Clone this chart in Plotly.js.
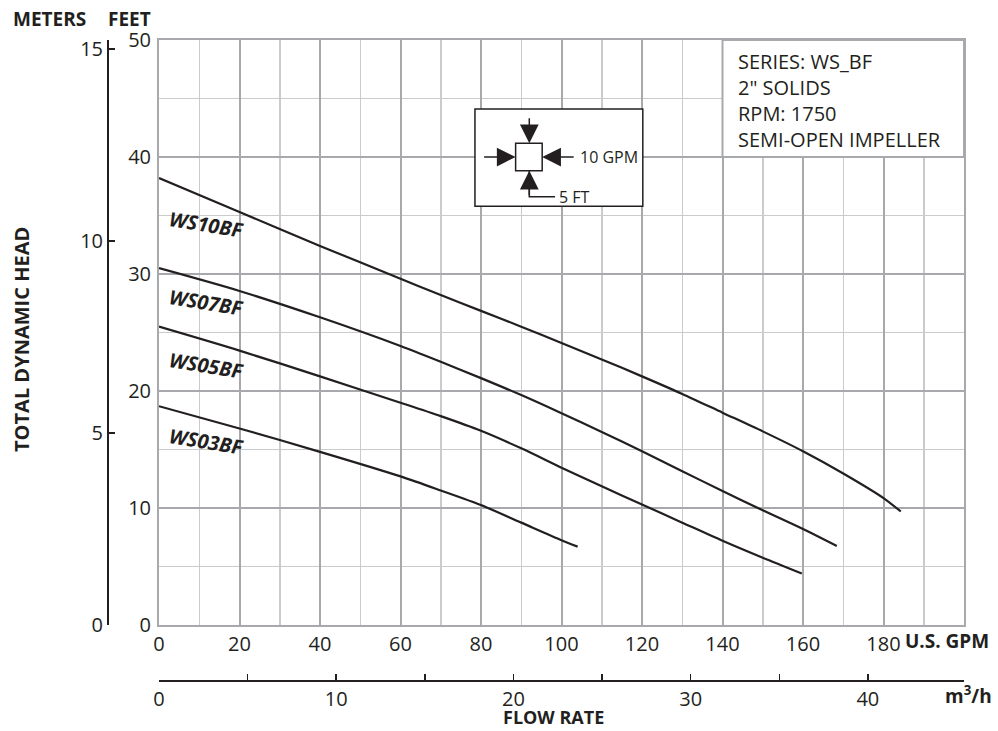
<!DOCTYPE html>
<html>
<head>
<meta charset="utf-8">
<script src="https://cdn.plot.ly/plotly-3.0.1.min.js"></script>
<style>html,body{margin:0;padding:0;background:#fff;}#chart{width:998px;height:731px;}</style>
</head>
<body>
<div id="chart"></div>
<script>
// ---- data (flow in U.S. GPM, head in feet) ----
const ws10_gpm = [0, 20, 40, 60, 70, 80, 90, 100, 110, 120, 130, 140, 150, 160, 170, 180, 184.3];
const ws10_ft  = [38.2, 35.3, 32.4, 29.6, 28.2, 26.85, 25.5, 24.1, 22.7, 21.25, 19.75, 18.15, 16.55, 14.85, 12.95, 10.85, 9.7];
const ws07_gpm = [0, 20, 40, 60, 70, 80, 90, 100, 110, 120, 130, 140, 150, 160, 168.4];
const ws07_ft  = [30.5, 28.55, 26.3, 23.85, 22.5, 21.1, 19.65, 18.1, 16.5, 14.85, 13.15, 11.45, 9.8, 8.2, 6.75];
const ws05_gpm = [0, 20, 40, 60, 70, 80, 90, 100, 110, 120, 130, 140, 150, 159.7];
const ws05_ft  = [25.5, 23.45, 21.25, 19.0, 17.85, 16.6, 15.1, 13.45, 11.85, 10.3, 8.75, 7.2, 5.75, 4.4];
const ws03_gpm = [0, 20, 40, 60, 70, 80, 90, 100, 104];
const ws03_ft  = [18.7, 16.8, 14.8, 12.7, 11.5, 10.25, 8.75, 7.25, 6.7];

const seriesNames = ['WS10BF', 'WS07BF', 'WS05BF', 'WS03BF'];
const gpmTicks = [0, 20, 40, 60, 80, 100, 120, 140, 160, 180];
const ftTicks = [0, 10, 20, 30, 40, 50];
const meterTicks = [0, 5, 10, 15];
const m3hTicks = [0, 5, 10, 15, 20, 25, 30, 35, 40];
const m3hTickText = ['0', '', '10', '', '20', '', '30', '', '40'];
const infoLines = ['SERIES: WS_BF', '2" SOLIDS', 'RPM: 1750', 'SEMI-OPEN IMPELLER'];

const GPM_MAX = 200, FT_MAX = 50;
const FT_PER_M = 3.28084, GPM_PER_M3H = 4.40287;

// ---- layout geometry ----
const W = 998, H = 731;
const ML = 107, MR = 34, MT = 40, MB = 51;
const PW = W - ML - MR, PH = H - MT - MB;
const plotLeft = 159, plotBottom = 625;
const xdom0 = (plotLeft - ML) / PW;
const ydom0 = ((H - MB) - plotBottom) / PH;
const px = v => (v - ML) / PW;            // pixel x -> paper
const py = v => ((H - MB) - v) / PH;      // pixel y -> paper

const INK = '#231f20';
const FONT = 'Open Sans, Noto Sans, sans-serif';
const MAJ = '#a7a9ac', MIN = '#cacbcd';

const xs = [ws10_gpm, ws07_gpm, ws05_gpm, ws03_gpm];
const ys = [ws10_ft, ws07_ft, ws05_ft, ws03_ft];
const traces = xs.map((x, i) => ({
  type: 'scatter', mode: 'lines', x: x, y: ys[i], name: seriesNames[i],
  line: {color: INK, width: 2.2, shape: 'spline', smoothing: 0.8},
  hoverinfo: 'skip', showlegend: false
}));
traces.push({type: 'scatter', mode: 'lines', x: [], y: [], xaxis: 'x2', yaxis: 'y', showlegend: false, hoverinfo: 'skip'});
traces.push({type: 'scatter', mode: 'lines', x: [], y: [], xaxis: 'x', yaxis: 'y2', showlegend: false, hoverinfo: 'skip'});

const labelY = [34.2, 27.6, 22.2, 15.7];
const annotations = seriesNames.map((n, i) => ({
  xref: 'x', yref: 'y', x: 11.8, y: labelY[i], text: n, showarrow: false,
  textangle: 9, font: {family: FONT, size: 20, color: INK, weight: 700, style: 'italic'}
}));

const tfont = (s, b) => ({family: FONT, size: s, color: INK, weight: b ? 700 : 400});
annotations.push(
  {xref: 'paper', yref: 'paper', x: px(11), y: py(19), xanchor: 'left', yanchor: 'middle', text: 'METERS', showarrow: false, font: tfont(19, true)},
  {xref: 'paper', yref: 'paper', x: px(106), y: py(19), xanchor: 'left', yanchor: 'middle', text: 'FEET', showarrow: false, font: tfont(19, true)},
  {xref: 'paper', yref: 'paper', x: px(21), y: py(340), xanchor: 'center', yanchor: 'middle', text: 'TOTAL DYNAMIC HEAD', textangle: -90, showarrow: false, font: tfont(20, true)},
  {xref: 'paper', yref: 'paper', x: px(903), y: py(641), xanchor: 'left', yanchor: 'middle', text: 'U.S. GPM', showarrow: false, font: tfont(19, true)},
  {xref: 'paper', yref: 'paper', x: px(994), y: py(695), xanchor: 'right', yanchor: 'middle', text: 'm<sup>3</sup>/h', showarrow: false, font: tfont(19, true)},
  {xref: 'paper', yref: 'paper', x: px(553), y: py(717), xanchor: 'center', yanchor: 'middle', text: 'FLOW RATE', showarrow: false, font: tfont(18, true)},
  {xref: 'x', yref: 'y', x: 143.3, y: 44.87, xanchor: 'left', yanchor: 'middle', align: 'left', text: infoLines.join('<br>'), showarrow: false, font: tfont(20, false)},
  // inset scale key
  {xref: 'x', yref: 'y', x: 104.0, y: 40.0, xanchor: 'left', yanchor: 'middle', text: '10 GPM', showarrow: false, font: tfont(16, false)},
  {xref: 'x', yref: 'y', x: 99.0, y: 36.6, xanchor: 'left', yanchor: 'middle', text: '5 FT', showarrow: false, font: tfont(16, false)}
);
const arrow = (x, y, ax, ay) => ({xref: 'x', yref: 'y', axref: 'x', ayref: 'y', x: x, y: y, ax: ax, ay: ay, text: '', showarrow: true, arrowhead: 2, arrowsize: 2.5, arrowwidth: 1.5, arrowcolor: INK, standoff: 0});
annotations.push(
  arrow(88.6, 40.0, 80.4, 40.0),
  arrow(95.2, 40.0, 103.4, 40.0),
  arrow(92.0, 41.17, 92.0, 43.44),
  arrow(92.0, 38.83, 92.0, 36.6)
);

const shapes = [
  {type: 'rect', xref: 'x', yref: 'y', x0: 140, x1: 200, y0: 40, y1: 50, fillcolor: '#fff', line: {color: MAJ, width: 2}, layer: 'above'},
  {type: 'rect', xref: 'x', yref: 'y', x0: 78.5, x1: 120.2, y0: 35.8, y1: 44.1, fillcolor: '#fff', line: {color: INK, width: 1.5}, layer: 'above'},
  {type: 'rect', xref: 'x', yref: 'y', x0: 88.6, x1: 95.2, y0: 38.83, y1: 41.17, fillcolor: '#fff', line: {color: INK, width: 1.5}, layer: 'above'},
  {type: 'path', xref: 'x', yref: 'y', path: 'M 92.0 38.83 L 92.0 36.6 L 98.4 36.6', line: {color: INK, width: 1.5}, layer: 'above'}
];

const layout = {
  width: W, height: H,
  margin: {l: ML, r: MR, t: MT, b: MB, pad: 0},
  paper_bgcolor: '#fff', plot_bgcolor: '#fff',
  showlegend: false, hovermode: false,
  font: {family: FONT, color: INK},
  xaxis: {
    domain: [xdom0, 1], range: [0, GPM_MAX], tickmode: 'array', tickvals: gpmTicks,
    showgrid: true, gridcolor: MAJ, gridwidth: 2, zeroline: false,
    showline: true, mirror: true, linecolor: MAJ, linewidth: 2,
    ticks: '', tickfont: {family: FONT, size: 20, color: INK},
    minor: {dtick: 10, tick0: 0, showgrid: true, gridcolor: MIN, gridwidth: 1.5, ticks: ''},
    fixedrange: true
  },
  yaxis: {
    domain: [ydom0, 1], range: [0, FT_MAX], tickmode: 'array', tickvals: ftTicks,
    showgrid: true, gridcolor: MAJ, gridwidth: 2, zeroline: false,
    showline: true, mirror: true, linecolor: MAJ, linewidth: 2,
    ticks: '', ticklabelstandoff: 2, tickfont: {family: FONT, size: 20, color: INK},
    minor: {dtick: 5, tick0: 0, showgrid: true, gridcolor: MIN, gridwidth: 1.5, ticks: ''},
    fixedrange: true
  },
  xaxis2: {
    overlaying: 'x', anchor: 'free', position: 0, side: 'bottom',
    range: [0, GPM_MAX / GPM_PER_M3H], tickmode: 'array', tickvals: m3hTicks, ticktext: m3hTickText,
    ticks: 'inside', ticklen: 6, tickwidth: 1.5, tickcolor: INK,
    showline: true, linecolor: INK, linewidth: 1.5, showgrid: false, zeroline: false,
    tickfont: {family: FONT, size: 20, color: INK}, fixedrange: true
  },
  yaxis2: {
    overlaying: 'y', anchor: 'free', position: 0, side: 'left',
    range: [0, FT_MAX / FT_PER_M], tickmode: 'array', tickvals: meterTicks,
    ticks: 'inside', ticklen: 6, tickwidth: 1.5, tickcolor: INK,
    showline: true, linecolor: INK, linewidth: 1.5, showgrid: false, zeroline: false,
    tickfont: {family: FONT, size: 20, color: INK}, fixedrange: true
  },
  shapes: shapes,
  annotations: annotations
};

Plotly.newPlot('chart', traces, layout, {staticPlot: true, displayModeBar: false});
</script>
</body>
</html>
